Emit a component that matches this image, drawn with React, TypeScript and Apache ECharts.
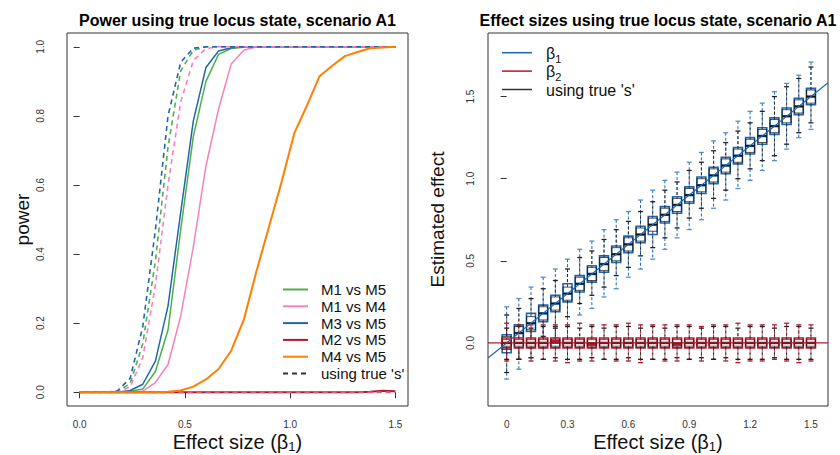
import React, { useEffect, useRef } from "react";
import * as echarts from "echarts";

// ---------- data ----------
const effectSizes = [0, 0.06, 0.12, 0.18, 0.24, 0.3, 0.36, 0.42, 0.48, 0.54, 0.6, 0.66, 0.72, 0.78, 0.84, 0.9, 0.96, 1.02, 1.08, 1.14, 1.2, 1.26, 1.32, 1.38, 1.44, 1.5];

const powerM1vsM5 = [0, 0, 0, 0, 0.003, 0.009, 0.06, 0.18, 0.47, 0.74, 0.9, 0.978, 0.995, 0.999, 1, 1, 1, 1, 1, 1, 1, 1, 1, 1, 1, 1];
const powerM1vsM4 = [0, 0, 0, 0, 0, 0.003, 0.028, 0.08, 0.22, 0.42, 0.655, 0.82, 0.95, 0.99, 1, 1, 1, 1, 1, 1, 1, 1, 1, 1, 1, 1];
const powerM3vsM5 = [0, 0, 0, 0, 0.005, 0.023, 0.09, 0.25, 0.52, 0.785, 0.94, 0.988, 0.997, 1, 1, 1, 1, 1, 1, 1, 1, 1, 1, 1, 1, 1];
const powerM2vsM5 = [0, 0, 0, 0, 0, 0, 0, 0, 0, 0, 0, 0, 0, 0, 0, 0, 0, 0, 0, 0, 0, 0, 0, 0.001, 0.004, 0.003];
const powerM4vsM5 = [0, 0, 0, 0, 0, 0, 0, 0.001, 0.005, 0.016, 0.037, 0.067, 0.12, 0.21, 0.35, 0.48, 0.61, 0.75, 0.83, 0.915, 0.945, 0.973, 0.985, 0.996, 0.998, 1];

const trueM1vsM5 = [0, 0, 0, 0.002, 0.025, 0.14, 0.38, 0.71, 0.93, 0.99, 1, 1, 1, 1, 1, 1, 1, 1, 1, 1, 1, 1, 1, 1, 1, 1];
const trueM1vsM4 = [0, 0, 0, 0.001, 0.015, 0.1, 0.31, 0.6, 0.84, 0.96, 0.995, 1, 1, 1, 1, 1, 1, 1, 1, 1, 1, 1, 1, 1, 1, 1];
const trueM3vsM5 = [0, 0, 0, 0.004, 0.04, 0.19, 0.47, 0.8, 0.955, 0.996, 1, 1, 1, 1, 1, 1, 1, 1, 1, 1, 1, 1, 1, 1, 1, 1];
const trueM2vsM5 = [0, 0, 0, 0, 0, 0, 0, 0, 0, 0, 0, 0, 0, 0, 0, 0, 0, 0, 0, 0, 0, 0, 0, 0, 0, 0];

const powerNames = ["M1 vs M5", "M1 vs M4", "M3 vs M5", "M2 vs M5", "M4 vs M5"];
const trueLabel = "using true 's'";

// boxplot stats: [lower whisker, Q1, median, Q3, upper whisker]
const beta1Boxes = [
  [-0.22, -0.06, 0.0, 0.05, 0.22],
  [-0.16, 0.01, 0.06, 0.11, 0.27],
  [-0.09, 0.07, 0.12, 0.18, 0.34],
  [-0.03, 0.13, 0.18, 0.23, 0.4],
  [0.03, 0.19, 0.24, 0.29, 0.45],
  [0.1, 0.25, 0.3, 0.36, 0.51],
  [0.17, 0.31, 0.36, 0.41, 0.57],
  [0.21, 0.37, 0.42, 0.47, 0.62],
  [0.28, 0.43, 0.48, 0.53, 0.69],
  [0.33, 0.49, 0.54, 0.59, 0.75],
  [0.4, 0.55, 0.6, 0.65, 0.8],
  [0.45, 0.61, 0.66, 0.71, 0.87],
  [0.51, 0.66, 0.72, 0.77, 0.93],
  [0.57, 0.73, 0.78, 0.83, 0.99],
  [0.64, 0.79, 0.84, 0.89, 1.04],
  [0.69, 0.85, 0.9, 0.95, 1.1],
  [0.75, 0.91, 0.96, 1.01, 1.16],
  [0.82, 0.97, 1.02, 1.07, 1.23],
  [0.87, 1.03, 1.08, 1.13, 1.28],
  [0.94, 1.09, 1.14, 1.19, 1.35],
  [0.99, 1.15, 1.2, 1.25, 1.41],
  [1.05, 1.21, 1.26, 1.31, 1.46],
  [1.11, 1.27, 1.32, 1.37, 1.53],
  [1.18, 1.33, 1.38, 1.43, 1.58],
  [1.25, 1.39, 1.44, 1.49, 1.63],
  [1.3, 1.45, 1.5, 1.55, 1.71],
];
const beta1TrueBoxes = [
  [-0.18, -0.04, 0.0, 0.04, 0.17],
  [-0.1, 0.02, 0.06, 0.1, 0.21],
  [-0.03, 0.08, 0.12, 0.16, 0.27],
  [0.04, 0.14, 0.18, 0.22, 0.33],
  [0.1, 0.2, 0.24, 0.28, 0.38],
  [0.16, 0.26, 0.3, 0.34, 0.45],
  [0.24, 0.32, 0.36, 0.4, 0.52],
  [0.29, 0.38, 0.42, 0.46, 0.56],
  [0.34, 0.44, 0.48, 0.52, 0.63],
  [0.41, 0.5, 0.54, 0.58, 0.69],
  [0.46, 0.56, 0.6, 0.64, 0.74],
  [0.53, 0.62, 0.66, 0.7, 0.8],
  [0.58, 0.68, 0.72, 0.76, 0.86],
  [0.64, 0.74, 0.78, 0.82, 0.93],
  [0.7, 0.8, 0.84, 0.88, 0.98],
  [0.76, 0.86, 0.9, 0.94, 1.05],
  [0.82, 0.92, 0.96, 1.0, 1.1],
  [0.88, 0.98, 1.02, 1.06, 1.17],
  [0.93, 1.04, 1.08, 1.12, 1.22],
  [1.0, 1.1, 1.14, 1.18, 1.29],
  [1.06, 1.16, 1.2, 1.24, 1.34],
  [1.11, 1.22, 1.26, 1.3, 1.41],
  [1.14, 1.28, 1.32, 1.36, 1.5],
  [1.21, 1.34, 1.38, 1.42, 1.56],
  [1.28, 1.4, 1.44, 1.48, 1.61],
  [1.34, 1.46, 1.5, 1.54, 1.68],
];
const beta2Boxes = [
  [-0.11, -0.03, 0.0, 0.03, 0.12],
  [-0.1, -0.03, 0.0, 0.03, 0.11],
  [-0.11, -0.03, 0.0, 0.03, 0.11],
  [-0.1, -0.03, 0.0, 0.03, 0.11],
  [-0.11, -0.03, 0.01, 0.03, 0.11],
  [-0.12, -0.03, 0.0, 0.03, 0.11],
  [-0.11, -0.03, 0.0, 0.03, 0.12],
  [-0.11, -0.03, -0.01, 0.03, 0.11],
  [-0.1, -0.03, 0.0, 0.03, 0.11],
  [-0.11, -0.03, 0.0, 0.03, 0.11],
  [-0.11, -0.03, 0.0, 0.03, 0.12],
  [-0.12, -0.03, 0.0, 0.03, 0.11],
  [-0.1, -0.03, 0.0, 0.03, 0.11],
  [-0.11, -0.03, 0.0, 0.03, 0.11],
  [-0.11, -0.03, -0.01, 0.03, 0.11],
  [-0.1, -0.03, 0.0, 0.03, 0.11],
  [-0.11, -0.03, 0.0, 0.03, 0.1],
  [-0.1, -0.03, 0.0, 0.03, 0.11],
  [-0.11, -0.03, 0.0, 0.03, 0.11],
  [-0.12, -0.03, 0.0, 0.03, 0.12],
  [-0.11, -0.03, 0.0, 0.03, 0.11],
  [-0.11, -0.03, 0.0, 0.03, 0.11],
  [-0.1, -0.03, 0.0, 0.03, 0.11],
  [-0.11, -0.03, 0.0, 0.03, 0.12],
  [-0.12, -0.03, 0.0, 0.03, 0.11],
  [-0.11, -0.03, 0.0, 0.03, 0.11],
];
const beta2TrueBoxes = [
  [-0.1, -0.02, 0.0, 0.02, 0.09],
  [-0.1, -0.02, 0.0, 0.02, 0.1],
  [-0.09, -0.02, 0.0, 0.02, 0.09],
  [-0.1, -0.02, 0.0, 0.02, 0.1],
  [-0.09, -0.02, 0.0, 0.02, 0.09],
  [-0.1, -0.02, 0.0, 0.02, 0.1],
  [-0.1, -0.02, 0.0, 0.02, 0.09],
  [-0.09, -0.02, 0.0, 0.02, 0.1],
  [-0.1, -0.02, 0.0, 0.02, 0.09],
  [-0.1, -0.02, 0.0, 0.02, 0.1],
  [-0.09, -0.02, 0.0, 0.02, 0.1],
  [-0.1, -0.02, 0.0, 0.02, 0.09],
  [-0.1, -0.02, 0.0, 0.02, 0.1],
  [-0.1, -0.02, 0.0, 0.02, 0.09],
  [-0.09, -0.02, 0.0, 0.02, 0.1],
  [-0.1, -0.02, 0.0, 0.02, 0.1],
  [-0.09, -0.02, 0.0, 0.02, 0.09],
  [-0.1, -0.02, 0.0, 0.02, 0.1],
  [-0.09, -0.02, 0.0, 0.02, 0.1],
  [-0.1, -0.02, 0.0, 0.02, 0.09],
  [-0.1, -0.02, 0.0, 0.02, 0.1],
  [-0.1, -0.02, 0.0, 0.02, 0.1],
  [-0.09, -0.02, 0.0, 0.02, 0.09],
  [-0.1, -0.02, 0.0, 0.02, 0.1],
  [-0.1, -0.02, 0.0, 0.02, 0.1],
  [-0.1, -0.02, 0.0, 0.02, 0.09],
];

const leftXTicks = [0, 0.5, 1.0, 1.5];
const leftYTicks = [0, 0.2, 0.4, 0.6, 0.8, 1.0];
const rightXTicks = [0, 0.3, 0.6, 0.9, 1.2, 1.5];
const rightYTicks = [0, 0.5, 1.0, 1.5];

// ---------- styling ----------
const FONT = "'Liberation Sans', Arial, Helvetica, sans-serif";
const GREEN = "#4daf4a";
const PINK = "#f781bf";
const BLUE = "#2166ac";
const RED = "#b2182b";
const ORANGE = "#ff7f00";
const powerColors = [GREEN, PINK, BLUE, RED, ORANGE];

const LEFT_X_RANGE = [-0.06, 1.56];
const LEFT_Y_RANGE = [-0.04, 1.04];
const RIGHT_X_RANGE = [-0.092, 1.584];
const RIGHT_Y_RANGE = [-0.384, 1.887];

function makeBoxRenderer(stroke: string, capColor: string, fill: string, boxLw: number, medLw: number, medColor: string) {
  return (params: any, api: any) => {
    const x = api.value(0);
    const lo = api.coord([x, api.value(1)]);
    const q1 = api.coord([x, api.value(2)]);
    const md = api.coord([x, api.value(3)]);
    const q3 = api.coord([x, api.value(4)]);
    const hi = api.coord([x, api.value(5)]);
    const cx = lo[0];
    const hw = 4.5;
    const cw = 2.5;
    const dashStyle = { stroke, lineWidth: 1, lineDash: [3, 2], fill: null };
    return {
      type: "group",
      children: [
        { type: "line", shape: { x1: cx, y1: hi[1], x2: cx, y2: q3[1] }, style: dashStyle },
        { type: "line", shape: { x1: cx, y1: q1[1], x2: cx, y2: lo[1] }, style: dashStyle },
        { type: "line", shape: { x1: cx - cw, y1: hi[1], x2: cx + cw, y2: hi[1] }, style: { stroke: capColor, lineWidth: 1.3 } },
        { type: "line", shape: { x1: cx - cw, y1: lo[1], x2: cx + cw, y2: lo[1] }, style: { stroke: capColor, lineWidth: 1.3 } },
        { type: "rect", shape: { x: cx - hw, y: q3[1], width: hw * 2, height: q1[1] - q3[1] }, style: { fill, stroke, lineWidth: boxLw } },
        { type: "line", shape: { x1: cx - hw, y1: md[1], x2: cx + hw, y2: md[1] }, style: { stroke: medColor, lineWidth: medLw } },
      ],
    };
  };
}

const fmt1 = (v: number) => v.toFixed(1);

export default function App() {
  const ref = useRef<HTMLDivElement>(null);
  useEffect(() => {
    document.body.style.margin = "0";
    if (!ref.current) return;
    const chart = echarts.init(ref.current, null, { renderer: "svg" });

    const toPairs = (ys: number[]) => effectSizes.map((x, i) => [x, ys[i]]);
    const toBoxes = (bs: number[][]) => effectSizes.map((x, i) => [x, ...bs[i]]);

    const solidSeries = [powerM1vsM5, powerM1vsM4, powerM3vsM5, powerM2vsM5].map((ys, i) => ({
      type: "line",
      name: powerNames[i],
      xAxisIndex: 0,
      yAxisIndex: 0,
      data: toPairs(ys),
      symbol: "none",
      lineStyle: { color: powerColors[i], width: i === 3 ? 2 : 1.5 },
      itemStyle: { color: powerColors[i] },
      z: 2,
    }));
    const dashedSeries = [trueM1vsM5, trueM1vsM4, trueM3vsM5, trueM2vsM5].map((ys, i) => ({
      type: "line",
      name: powerNames[i] + " (" + trueLabel + ")",
      xAxisIndex: 0,
      yAxisIndex: 0,
      data: toPairs(ys),
      symbol: "none",
      lineStyle: { color: i === 3 ? "#d9607a" : powerColors[i], width: i === 3 ? 2 : 1.6, type: [5, 4] },
      itemStyle: { color: powerColors[i] },
      z: 3,
    }));
    const orangeSeries = {
      type: "line",
      name: powerNames[4],
      xAxisIndex: 0,
      yAxisIndex: 0,
      data: toPairs(powerM4vsM5),
      symbol: "none",
      lineStyle: { color: ORANGE, width: 2 },
      itemStyle: { color: ORANGE },
      z: 4,
    };

    const axisCommon = {
      axisLine: { show: false },
      splitLine: { show: false },
      axisTick: { show: true, inside: false, length: 6, lineStyle: { color: "#333", width: 1 } },
    };
    const labelCommon = { color: "#333", fontSize: 10, fontFamily: FONT };

    const legendGraphics: any[] = [];
    const legendItems = powerNames.map((n, i) => ({ name: n, color: powerColors[i], dashed: false }));
    legendItems.push({ name: trueLabel, color: "#333", dashed: true });
    legendItems.forEach((it, i) => {
      const y = 289.5 + i * 16.8;
      legendGraphics.push({
        type: "line",
        shape: { x1: 283, y1: y, x2: 308, y2: y },
        style: { stroke: it.color, lineWidth: 2, lineDash: it.dashed ? [5, 4] : null },
        z: 100,
      });
      legendGraphics.push({
        type: "text",
        x: 321,
        y,
        style: { text: it.name, fontSize: 15, fontFamily: FONT, fill: "#111", verticalAlign: "middle", align: "left" },
        z: 100,
      });
    });

    const rightLegend = [
      { text: "{m|β}{s|1}", color: BLUE },
      { text: "{m|β}{s|2}", color: RED },
      { text: "{m|" + trueLabel + "}", color: "#333" },
    ];
    rightLegend.forEach((it, i) => {
      const y = 52.7 + i * 18.4;
      legendGraphics.push({
        type: "line",
        shape: { x1: 502, y1: y, x2: 532, y2: y },
        style: { stroke: it.color, lineWidth: 1.5 },
        z: 100,
      });
      legendGraphics.push({
        type: "text",
        x: 546,
        y: y + 1,
        style: {
          text: it.text,
          fontFamily: FONT,
          fill: "#111",
          verticalAlign: "middle",
          align: "left",
          rich: {
            m: { fontSize: 16, lineHeight: 17, verticalAlign: "top", fontFamily: FONT, fill: "#111" },
            s: { fontSize: 11, lineHeight: 9, verticalAlign: "top", padding: [8, 0, 0, 0], fontFamily: FONT, fill: "#111" },
          },
        },
        z: 100,
      });
    });

    const xTitleRich = {
      m: { fontSize: 20, lineHeight: 18, verticalAlign: "top", fontFamily: FONT, fill: "#111" },
      s: { fontSize: 13, lineHeight: 10, verticalAlign: "top", padding: [8, 0, 0, 0], fontFamily: FONT, fill: "#111" },
    };

    const option: any = {
      animation: false,
      backgroundColor: "#ffffff",
      textStyle: { fontFamily: FONT },
      grid: [
        { left: 67, top: 33, width: 341, height: 373, show: true, borderColor: "#333", borderWidth: 1, backgroundColor: "transparent" },
        { left: 488, top: 33, width: 340, height: 373, show: true, borderColor: "#333", borderWidth: 1, backgroundColor: "transparent" },
      ],
      xAxis: [
        {
          type: "value", gridIndex: 0, min: LEFT_X_RANGE[0], max: LEFT_X_RANGE[1], ...axisCommon,
          axisTick: { ...axisCommon.axisTick, customValues: leftXTicks },
          axisLabel: { ...labelCommon, margin: 13, customValues: leftXTicks, formatter: fmt1 },
        },
        {
          type: "value", gridIndex: 1, min: RIGHT_X_RANGE[0], max: RIGHT_X_RANGE[1], ...axisCommon,
          axisTick: { ...axisCommon.axisTick, customValues: rightXTicks },
          axisLabel: { ...labelCommon, margin: 13, customValues: rightXTicks, formatter: (v: number) => (v === 0 ? "0" : v.toFixed(1)) },
        },
      ],
      yAxis: [
        {
          type: "value", gridIndex: 0, min: LEFT_Y_RANGE[0], max: LEFT_Y_RANGE[1], ...axisCommon,
          axisTick: { ...axisCommon.axisTick, customValues: leftYTicks },
          axisLabel: { ...labelCommon, margin: 22, rotate: 90, customValues: leftYTicks, formatter: fmt1 },
        },
        {
          type: "value", gridIndex: 1, min: RIGHT_Y_RANGE[0], max: RIGHT_Y_RANGE[1], ...axisCommon,
          axisTick: { ...axisCommon.axisTick, customValues: rightYTicks },
          axisLabel: { ...labelCommon, margin: 13, rotate: 90, customValues: rightYTicks, formatter: fmt1 },
        },
      ],
      series: [
        ...solidSeries,
        ...dashedSeries,
        orangeSeries,
        {
          type: "custom", name: "β1", xAxisIndex: 1, yAxisIndex: 1, clip: true,
          data: toBoxes(beta1Boxes), encode: { x: 0, y: [1, 2, 3, 4, 5] },
          renderItem: makeBoxRenderer(BLUE, "#4f8fcf", "#ffffff", 1.6, 2.5, BLUE), z: 2,
        },
        {
          type: "custom", name: "β1 " + trueLabel, xAxisIndex: 1, yAxisIndex: 1, clip: true,
          data: toBoxes(beta1TrueBoxes), encode: { x: 0, y: [1, 2, 3, 4, 5] },
          renderItem: makeBoxRenderer("rgba(20,20,20,0.75)", "#222", "none", 1, 1.5, "#111"), z: 3,
        },
        {
          type: "custom", name: "β2", xAxisIndex: 1, yAxisIndex: 1, clip: true,
          data: toBoxes(beta2Boxes), encode: { x: 0, y: [1, 2, 3, 4, 5] },
          renderItem: makeBoxRenderer(RED, RED, "#ffffff", 1.6, 2.5, RED), z: 4,
        },
        {
          type: "custom", name: "β2 " + trueLabel, xAxisIndex: 1, yAxisIndex: 1, clip: true,
          data: toBoxes(beta2TrueBoxes), encode: { x: 0, y: [1, 2, 3, 4, 5] },
          renderItem: makeBoxRenderer("rgba(20,20,20,0.7)", "#222", "none", 1, 1.5, "#111"), z: 5,
        },
        {
          type: "line", name: "y = x", xAxisIndex: 1, yAxisIndex: 1, symbol: "none", clip: true,
          data: [[RIGHT_X_RANGE[0], RIGHT_X_RANGE[0]], [RIGHT_X_RANGE[1], RIGHT_X_RANGE[1]]],
          lineStyle: { color: BLUE, width: 1.2 }, z: 6,
        },
        {
          type: "line", name: "zero", xAxisIndex: 1, yAxisIndex: 1, symbol: "none", clip: true,
          data: [[RIGHT_X_RANGE[0], 0], [RIGHT_X_RANGE[1], 0]],
          lineStyle: { color: RED, width: 1.2 }, z: 6,
        },
      ],
      graphic: [
        {
          type: "text", x: 237.5, y: 20,
          style: { text: "Power using true locus state, scenario A1", fontSize: 16, fontWeight: "bold", fontFamily: FONT, fill: "#000", align: "center", verticalAlign: "middle" },
        },
        {
          type: "text", x: 658, y: 20,
          style: { text: "Effect sizes using true locus state, scenario A1", fontSize: 16, fontWeight: "bold", fontFamily: FONT, fill: "#000", align: "center", verticalAlign: "middle" },
        },
        {
          type: "text", x: 237.5, y: 441,
          style: { text: "{m|Effect size (β}{s|1}{m|)}", rich: xTitleRich, fontFamily: FONT, align: "center", verticalAlign: "middle" },
        },
        {
          type: "text", x: 658, y: 441,
          style: { text: "{m|Effect size (β}{s|1}{m|)}", rich: xTitleRich, fontFamily: FONT, align: "center", verticalAlign: "middle" },
        },
        {
          type: "text", x: 22, y: 219.5, rotation: Math.PI / 2,
          style: { text: "power", fontSize: 19, fontFamily: FONT, fill: "#111", align: "center", verticalAlign: "middle" },
        },
        {
          type: "text", x: 437, y: 219.5, rotation: Math.PI / 2,
          style: { text: "Estimated effect", fontSize: 19, fontFamily: FONT, fill: "#111", align: "center", verticalAlign: "middle" },
        },
        ...legendGraphics,
      ],
    };
    chart.setOption(option);
    return () => chart.dispose();
  }, []);
  return <div ref={ref} style={{ width: 840, height: 455 }} />;
}
